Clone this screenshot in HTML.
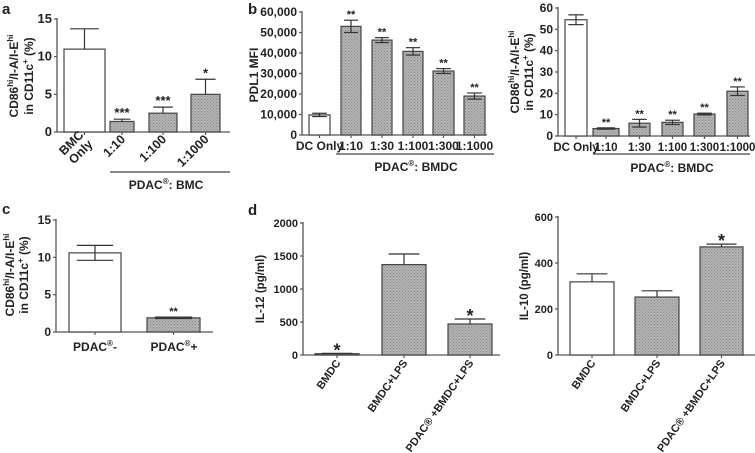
<!DOCTYPE html>
<html><head><meta charset="utf-8"><style>
html,body{margin:0;padding:0;background:#fff}
svg{display:block;font-family:"Liberation Sans",Arial,sans-serif;font-weight:bold}
text{fill:#222}
</style></head><body>
<svg id="fig" width="755" height="453" viewBox="0 0 755 453" xmlns="http://www.w3.org/2000/svg">
<defs><pattern id="dots" width="3" height="3" patternUnits="userSpaceOnUse"><rect width="3" height="3" fill="#b4b4b4"/><rect width="1" height="1" fill="#8a8a8a"/><rect x="1.5" y="1.5" width="1" height="1" fill="#8a8a8a"/></pattern></defs>
</svg>
<script>
// Panel a
const aCats=["BMC Only","1:10","1:100","1:1000"];
const aVals=[11,1.4,2.5,5];
const aErr=[2.7,0.3,0.8,2];
const aStars=["","***","***","*"];
const aTicks=[0,5,10,15];
// Panel b (PDL1)
const bCats=["DC Only","1:10","1:30","1:100","1:300","1:1000"];
const bVals=[9800,53000,46300,40800,31200,19000];
const bErr=[800,3000,1200,1800,1200,1500];
const bStars=["","**","**","**","**","**"];
const bTicks=[0,10000,20000,30000,40000,50000,60000];
const bTickLabels=["0","10,000","20,000","30,000","40,000","50,000","60,000"];
// Panel b2 (CD86)
const b2Cats=["DC Only","1:10","1:30","1:100","1:300","1:1000"];
const b2Vals=[54.5,3.5,6,6.4,10.3,21];
const b2Err=[2.3,0.3,1.8,1,0.4,2];
const b2Stars=["","**","**","**","**","**"];
const b2Ticks=[0,10,20,30,40,50,60];
// Panel c
const cCats=["PDAC-","PDAC+"];
const cVals=[10.6,1.9];
const cErr=[1,0.1];
const cStars=["","**"];
const cTicks=[0,5,10,15];
// Panel d IL-12
const dCats=["BMDC","BMDC+LPS","PDAC® +BMDC+LPS"];
const dVals=[20,1370,470];
const dErr=[5,160,75];
const dStars=["*","","*"];
const dTicks=[0,500,1000,1500,2000];
// Panel d IL-10
const d2Cats=["BMDC","BMDC+LPS","PDAC® +BMDC+LPS"];
const d2Vals=[318,252,470];
const d2Err=[35,27,12];
const d2Stars=["","","*"];
const d2Ticks=[0,200,400,600];

const NS="http://www.w3.org/2000/svg";
const svg=document.getElementById('fig');
function mk(tag,attrs,parent,txt){const e=document.createElementNS(NS,tag);for(const k in attrs)e.setAttribute(k,attrs[k]);if(txt!==undefined)e.textContent=txt;(parent||svg).appendChild(e);return e;}

function panel(cfg){
  const g=mk('g',{});
  
  
  const ymax=cfg.ticks[cfg.ticks.length-1];
  const y=v=>cfg.y0-(v/ymax)*(cfg.y0-cfg.yTop);
  const ax=mk('line',{x1:cfg.ax,y1:cfg.yTop-1,x2:cfg.ax,y2:cfg.y0,stroke:'#555','stroke-width':1.3},g);
  
  
  const xa=mk('line',{x1:cfg.ax,y1:cfg.y0,x2:cfg.axEnd,y2:cfg.y0,stroke:'#555','stroke-width':1.3},g);
  
  
  cfg.ticks.forEach((t,i)=>{
    mk('line',{x1:cfg.ax-3,y1:y(t),x2:cfg.ax,y2:y(t),stroke:'#555','stroke-width':1.2},g);
    const tl=mk('text',{x:cfg.ax-5,y:y(t)+4,'text-anchor':'end','font-size':cfg.fs||11},g,cfg.tickLabels?cfg.tickLabels[i]:t);
    
    
  });
  cfg.vals.forEach((v,i)=>{
    const [l,r]=cfg.bars[i];const cx=(l+r)/2;
    const fill=cfg.white.includes(i)?'#fff':'url(#dots)';
    const b=mk('rect',{x:l,y:y(v),width:r-l,height:cfg.y0-y(v),fill:fill,stroke:'#444','stroke-width':1.2},g);
    
    
    const e=cfg.err[i];const w=(r-l)*0.35;
    const top=y(v+e);
    mk('line',{x1:cx,y1:top,x2:cx,y2:cfg.sym?y(v-e):y(v),stroke:'#333','stroke-width':1.2},g);
    mk('line',{x1:cx-w,y1:top,x2:cx+w,y2:top,stroke:'#333','stroke-width':1.2},g);
    if(cfg.sym) mk('line',{x1:cx-w,y1:y(v-e),x2:cx+w,y2:y(v-e),stroke:'#333','stroke-width':1.2},g);
    mk('line',{x1:cx,y1:cfg.y0,x2:cx,y2:cfg.y0+3,stroke:'#555','stroke-width':1.2},g);
    if(cfg.stars[i]){const s=mk('text',{x:cx,y:top-2+(cfg.starDy||0),'text-anchor':'middle','font-size':cfg.starFs||12},g,cfg.stars[i]);
      
      }
    if(cfg.labelMode==='flat'){
      const t=mk('text',{x:cx,y:cfg.y0+15,'text-anchor':'middle','font-size':cfg.lfs||11},g,cfg.cats[i]);
      
      
    } else if(cfg.labelMode==='rot'){
      const ang=cfg.angle;const lx=cx+4,ly=cfg.y0+8;
      const t=mk('text',{x:lx,y:ly,'text-anchor':'end','font-size':cfg.lfs||11,transform:`rotate(${ang} ${lx} ${ly})`},g);
      
      
      const parts=cfg.cats[i].split(' ');
      if(cfg.twoLine&&parts.length>1){mk('tspan',{x:lx,dy:-6},t,parts[0]);mk('tspan',{x:lx,dy:13},t,parts[1]);}
      else t.textContent=cfg.cats[i];
    }
  });
  return g;
}

panel({name:'panel-a-chart',ax:57,axEnd:230,y0:132,yTop:19,ticks:aTicks,cats:aCats,vals:aVals,err:aErr,stars:aStars,
  bars:[[64,105],[110,134],[149,177],[191,220]],white:[0],labelMode:'rot',angle:-45,twoLine:true,fs:13,lfs:12.5,starFs:13});
panel({name:'panel-b-pdl1-chart',ax:302,axEnd:487,y0:135,yTop:12,ticks:bTicks,tickLabels:bTickLabels,cats:bCats,vals:bVals,err:bErr,stars:bStars,sym:true,
  bars:[[309,330],[341,361],[372,392],[403,423],[433,454],[464,485]],white:[0],labelMode:'flat',fs:12,lfs:12,starFs:11});
panel({name:'panel-b-cd86-chart',ax:558,axEnd:750,y0:136,yTop:8,ticks:b2Ticks,cats:b2Cats,vals:b2Vals,err:b2Err,stars:b2Stars,sym:true,
  bars:[[565,587],[593,619],[629,650],[662,683],[694,715],[727,748]],white:[0],labelMode:'flat',fs:12,lfs:11.5,starFs:11});
panel({name:'panel-c-chart',ax:56,axEnd:213,y0:332,yTop:220,ticks:cTicks,cats:cCats,vals:cVals,err:cErr,stars:cStars,sym:true,
  bars:[[69,121],[147,200]],white:[0],labelMode:'none',fs:12,starFs:11});
panel({name:'panel-d-il12-chart',ax:303,axEnd:500,y0:355,yTop:223,ticks:dTicks,cats:dCats,vals:dVals,err:dErr,stars:dStars,
  bars:[[315,359],[382,426],[448,492]],white:[],labelMode:'rot',angle:-55,fs:11,lfs:11,starFs:18,starDy:5});
panel({name:'panel-d-il10-chart',ax:558,axEnd:755,y0:355,yTop:217,ticks:d2Ticks,cats:d2Cats,vals:d2Vals,err:d2Err,stars:d2Stars,
  bars:[[570,614],[635,679],[700,743]],white:[0],labelMode:'rot',angle:-55,fs:11,lfs:11,starFs:18,starDy:5});
</script>
<svg style="position:absolute;left:0;top:0" width="755" height="453" font-family="Liberation Sans, Arial, sans-serif" font-weight="bold">
<text x="2" y="14" font-size="15" fill="#222">a</text>
<text x="248" y="14" font-size="15" fill="#222">b</text>
<text x="2" y="214" font-size="15" fill="#222">c</text>
<text x="248" y="215" font-size="15" fill="#222">d</text>
<g font-size="12" fill="#222" text-anchor="middle">
<text transform="rotate(-90 18 76)" x="18" y="76">CD86<tspan font-size="8" dy="-5">hi</tspan><tspan dy="5">/I-A/I-E</tspan><tspan font-size="8" dy="-5">hi</tspan></text>
<text transform="rotate(-90 33 76)" x="33" y="76">in CD11c<tspan font-size="8" dy="-5">+</tspan><tspan dy="5"> (%)</tspan></text></g>
<text transform="rotate(-90 258 75)" x="258" y="75" font-size="12" fill="#222" text-anchor="middle">PDL1 MFI</text>
<g font-size="12" fill="#222" text-anchor="middle">
<text transform="rotate(-90 519 72)" x="519" y="72">CD86<tspan font-size="8" dy="-5">hi</tspan><tspan dy="5">/I-A/I-E</tspan><tspan font-size="8" dy="-5">hi</tspan></text>
<text transform="rotate(-90 533 72)" x="533" y="72">in CD11c<tspan font-size="8" dy="-5">+</tspan><tspan dy="5"> (%)</tspan></text></g>
<g font-size="12" fill="#222" text-anchor="middle">
<text transform="rotate(-90 14 275)" x="14" y="275">CD86<tspan font-size="8" dy="-5">hi</tspan><tspan dy="5">/I-A/I-E</tspan><tspan font-size="8" dy="-5">hi</tspan></text>
<text transform="rotate(-90 28 275)" x="28" y="275">in CD11c<tspan font-size="8" dy="-5">+</tspan><tspan dy="5"> (%)</tspan></text></g>
<text transform="rotate(-90 264 289)" x="264" y="289" font-size="11.5" fill="#222" text-anchor="middle">IL-12 (pg/ml)</text>
<text transform="rotate(-90 528 286)" x="528" y="286" font-size="11.5" fill="#222" text-anchor="middle">IL-10 (pg/ml)</text>
<line x1="110" y1="172" x2="230" y2="172" stroke="#444" stroke-width="1.2"/>
<text x="166" y="189" font-size="12" fill="#222" text-anchor="middle">PDAC<tspan font-size="8" dy="-5">®</tspan><tspan dy="5">: BMC</tspan></text>
<line x1="336" y1="154" x2="494" y2="154" stroke="#444" stroke-width="1.2"/>
<text x="416" y="171" font-size="12" fill="#222" text-anchor="middle">PDAC<tspan font-size="8" dy="-5">®</tspan><tspan dy="5">: BMDC</tspan></text>
<line x1="593" y1="154" x2="750" y2="154" stroke="#444" stroke-width="1.2"/>
<text x="672" y="172" font-size="12" fill="#222" text-anchor="middle">PDAC<tspan font-size="8" dy="-5">®</tspan><tspan dy="5">: BMDC</tspan></text>
<text x="95" y="351" font-size="12" fill="#222" text-anchor="middle">PDAC<tspan font-size="8" dy="-5">®</tspan><tspan dy="5">-</tspan></text>
<text x="174" y="351" font-size="12" fill="#222" text-anchor="middle">PDAC<tspan font-size="8" dy="-5">®</tspan><tspan dy="5">+</tspan></text>
</svg>
</body></html>
